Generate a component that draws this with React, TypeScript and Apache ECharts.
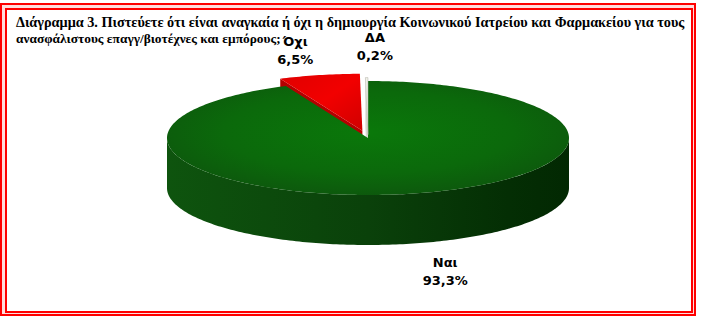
import React, { useEffect, useRef } from 'react';
import * as echarts from 'echarts';

const categories = ['Ναι', 'Όχι', 'ΔΑ'];
const values = [93.3, 6.5, 0.2];
const titleLines = [
  'Διάγραμμα 3. Πιστεύετε ότι είναι αναγκαία ή όχι η δημιουργία Κοινωνικού Ιατρείου και Φαρμακείου για τους',
  'ανασφάλιστους επαγγ/βιοτέχνες και εμπόρους;',
];

// styles (not data)
const sliceStyles = [
  {
    explode: 0,
    labelOffset: [10, 0],
    top: { type: 'radial', x: 0.5, y: 0.45, r: 0.6, colorStops: [
      { offset: 0, color: '#0a780a' }, { offset: 0.6, color: '#0b690b' }, { offset: 1, color: '#0d550d' } ] },
    side: { type: 'linear', x: 0, y: 0, x2: 1, y2: 0, colorStops: [
      { offset: 0, color: '#0e540e' }, { offset: 0.5, color: '#0a410a' }, { offset: 0.85, color: '#042e04' }, { offset: 1, color: '#022802' } ] },
    cut: '#0a4a0a',
  },
  {
    explode: 0.13,
    labelOffset: [2, 3],
    top: { type: 'linear', x: 0, y: 0, x2: 1, y2: 1, colorStops: [
      { offset: 0, color: '#e00000' }, { offset: 0.5, color: '#f20000' }, { offset: 1, color: '#d00000' } ] },
    side: '#a00000',
    cut: '#b40000',
  },
  {
    explode: 0.06,
    labelOffset: [9, -3],
    top: '#f2f2ea',
    side: '#c8c8c0',
    cut: '#d8d8d0',
  },
];

const CX = 368, CY = 138, RX = 201, RY = 57, THICK = 50;

function fmt(v: number) {
  return v.toFixed(1).replace('.', ',') + '%';
}

export default function App() {
  const ref = useRef<HTMLDivElement>(null);
  useEffect(() => {
    if (!ref.current) return;
    const chart = echarts.init(ref.current, null, { renderer: 'svg' });
    const total = values.reduce((a, b) => a + b, 0);

    const renderItem = (params: any, api: any) => {
      const idx = params.dataIndex;
      let start = 0;
      for (let i = 0; i < idx; i++) start += values[i];
      const a0 = (start / total) * Math.PI * 2;
      const a1 = ((start + values[idx]) / total) * Math.PI * 2;
      const mid = (a0 + a1) / 2;
      const st = sliceStyles[idx];
      const ox = st.explode * RX * Math.sin(mid);
      const oy = -st.explode * RY * Math.cos(mid);
      const P = (a: number, dy: number) => [CX + ox + RX * Math.sin(a), CY + oy - RY * Math.cos(a) + dy];
      const C = (dy: number) => [CX + ox, CY + oy + dy];
      const arc = (b0: number, b1: number, dy: number) => {
        const n = Math.max(2, Math.ceil(((b1 - b0) * 180) / Math.PI));
        const pts: number[][] = [];
        for (let k = 0; k <= n; k++) pts.push(P(b0 + ((b1 - b0) * k) / n, dy));
        return pts;
      };
      const children: any[] = [];
      const small = values[idx] / total < 0.5;
      const n0 = a0 - Math.PI / 2;
      if (Math.cos(n0) < 0 && small) {
        children.push({ type: 'polygon', z2: 1, shape: { points: [C(0), P(a0, 0), P(a0, THICK), C(THICK)] }, style: { fill: st.cut } });
      }
      const n1 = a1 + Math.PI / 2;
      if (Math.cos(n1) < 0 && small) {
        children.push({ type: 'polygon', z2: 1, shape: { points: [C(0), P(a1, 0), P(a1, THICK), C(THICK)] }, style: { fill: st.cut } });
      }
      const f0 = Math.max(a0, Math.PI / 2);
      const f1 = Math.min(a1, (Math.PI * 3) / 2);
      if (f1 > f0) {
        const topArc = arc(f0, f1, 0);
        const botArc = arc(f0, f1, THICK).reverse();
        children.push({ type: 'polygon', z2: 2, shape: { points: topArc.concat(botArc) }, style: { fill: st.side } });
      }
      children.push({
        type: 'polygon', z2: 3, shape: { points: [C(0)].concat(arc(a0, a1, 0)) },
        style: { fill: st.top, stroke: idx === 2 ? '#b8b8b0' : undefined, lineWidth: idx === 2 ? 0.6 : 0 },
      });
      const front = Math.cos(mid) < 0;
      const lx = CX + ox + RX * 1.6 * Math.sin(mid) + st.labelOffset[0];
      const ly = CY + oy - RY * 1.5 * Math.cos(mid) + (front ? THICK : 0) + st.labelOffset[1];
      children.push({
        type: 'text', z2: 10, x: lx, y: ly,
        style: {
          text: categories[idx] + '\n' + fmt(values[idx]),
          font: 'bold 13px "DejaVu Sans"', fill: '#000', align: 'center', verticalAlign: 'middle', lineHeight: 18,
        },
      });
      return { type: 'group', children };
    };

    chart.setOption({
      animation: false,
      backgroundColor: '#ffffff',
      graphic: [
        { type: 'rect', z: -10, shape: { x: 1, y: 4, width: 694, height: 311 }, style: { fill: '#ffdcdc', stroke: '#ff0000', lineWidth: 2 } },
        { type: 'rect', z: -9, shape: { x: 6, y: 9, width: 686, height: 303 }, style: { fill: '#ffffff', stroke: '#ff0000', lineWidth: 2 } },
        {
          type: 'text', z: 5, left: 16, top: 15,
          style: { text: titleLines[0], font: 'bold 14.25px "Liberation Serif"', fill: '#000' },
        },
        {
          type: 'text', z: 5, left: 16, top: 32,
          style: { text: titleLines[1], font: 'bold 13.4px "Liberation Serif"', fill: '#000' },
        },
      ],
      series: [
        {
          type: 'custom',
          coordinateSystem: 'none',
          renderItem,
          data: values.map((v, i) => ({ value: v, name: categories[i] })),
        },
      ],
    });
    return () => chart.dispose();
  }, []);
  return <div ref={ref} style={{ position: 'fixed', left: 0, top: 0, width: 701, height: 322 }} />;
}
